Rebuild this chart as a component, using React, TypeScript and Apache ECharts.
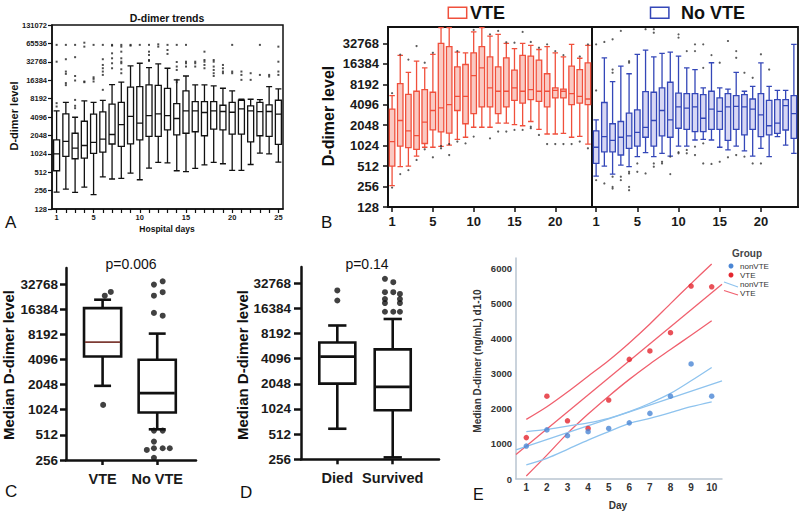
import React, { useEffect, useRef } from 'react';
import * as echarts from 'echarts';

const FONT = 'Arial, "Liberation Sans", Helvetica, sans-serif';
const lg = (v: number) => Math.log2(v);

// ---------- Panel A ----------
const daysA = ['1','2','3','4','5','6','7','8','9','10','11','12','13','14','15','16','17','18','19','20','21','22','23','24','25'];
const aLabelIdx = [0, 4, 9, 14, 19, 24];
const yTicksA = [128, 256, 512, 1024, 2048, 4096, 8192, 16384, 32768, 65536, 131072];
// [low whisker, Q1, median, Q3, high whisker]
const boxA = [
  [242, 541, 1024, 1735, 5150],
  [271, 930, 1630, 4600, 7100],
  [240, 850, 1270, 2220, 4060],
  [292, 870, 1400, 3490, 7540],
  [220, 1040, 1570, 4550, 7100],
  [428, 1090, 1780, 4970, 7650],
  [396, 1480, 2120, 6650, 13900],
  [405, 1350, 3070, 7100, 15200],
  [494, 1490, 4180, 12600, 28100],
  [385, 1735, 3260, 12900, 31000],
  [596, 1970, 4330, 13700, 26400],
  [740, 1970, 4600, 13500, 30200],
  [725, 2520, 4330, 12000, 25700],
  [541, 2090, 3870, 6800, 16600],
  [523, 2220, 5150, 11000, 19200],
  [592, 2350, 5150, 7330, 13700],
  [677, 2020, 4850, 7330, 13700],
  [740, 2590, 5150, 7330, 13200],
  [704, 2520, 5040, 6380, 12100],
  [549, 2150, 4900, 7100, 11000],
  [549, 2150, 5560, 7700, 8000],
  [684, 1610, 5150, 6250, 8000],
  [1050, 2020, 5000, 7100, 7900],
  [1024, 1970, 5040, 6470, 12900],
  [750, 1460, 4550, 7700, 11800],
];
const outA: [number, number][] = [
  [0,62000],[0,32900],[0,6900],[0,6080],
  [1,62000],[1,36100],[1,22700],[1,20800],[1,14700],[1,13600],
  [2,62000],[2,39000],[2,19200],[2,16200],[2,7800],[2,6250],[2,5710],
  [3,67300],[3,58000],[3,15600],[3,15200],
  [4,62000],[4,18300],[4,17200],[4,15600],
  [5,62000],[5,36100],[5,29100],[5,25700],[5,22700],[5,20000],[5,11400],
  [6,62000],[6,60300],[6,45100],[6,37400],[6,31000],[6,25700],
  [7,62000],[7,58000],[7,48000],[7,37400],[7,32900],[7,31000],[7,24700],[7,21300],
  [8,62000],[8,60300],
  [9,62000],
  [10,62000],[10,48000],[10,42400],[10,35100],[10,33900],
  [11,63300],[11,58000],
  [12,62000],[12,51100],[12,44100],
  [13,62000],[13,32500],[13,27400],[13,24100],[13,16600],[13,15200],
  [14,62000],[14,32900],[14,31000],[14,27400],
  [15,32900],[15,31000],[15,27400],
  [16,48000],[16,35100],[16,32900],[16,29100],[16,25700],
  [17,35100],[17,32900],[17,27400],[17,24100],[17,21300],[17,19200],
  [18,29100],[18,25700],[18,22700],[18,21300],
  [19,62000],[19,22700],[19,21300],
  [20,22700],[20,20000],[20,16600],
  [21,21300],[21,16600],
  [22,62000],[22,20000],
  [23,20000],[23,18800],
  [24,58000],[24,32900],[24,22700],[24,20000],
];

// ---------- Panel B ----------
const daysB = ['1','2','3','4','5','6','7','8','9','10','11','12','13','14','15','16','17','18','19','20','21','22','23','24','25'];
const bTickText: Record<number, string> = { 0: '1', 5: '5', 10: '10', 15: '15', 20: '20' };
const yTicksB = [128, 256, 512, 1024, 2048, 4096, 8192, 16384, 32768];
const boxBred = [
  [265, 512, 1176, 3540, 5560],
  [502, 1010, 2400, 8360, 21800],
  [512, 955, 1690, 5830, 12300],
  [718, 900, 1440, 6470, 17900],
  [970, 1100, 2270, 6840, 14300],
  [970, 1745, 3370, 6250, 22600],
  [1000, 1630, 3690, 32768, 56000],
  [1045, 1560, 4100, 29300, 56000],
  [1270, 3370, 5440, 14800, 24300],
  [1360, 2150, 5440, 16000, 23800],
  [1910, 3020, 11000, 23800, 48300],
  [1910, 3800, 14300, 29300, 56000],
  [1910, 3800, 7230, 20700, 42000],
  [2200, 3020, 6470, 14800, 44500],
  [2200, 3800, 6470, 20100, 32768],
  [2080, 4740, 7230, 13200, 27400],
  [2010, 4330, 6470, 21800, 32768],
  [2320, 4870, 6840, 21300, 30600],
  [1780, 4590, 6470, 18600, 26600],
  [1520, 3800, 6470, 11700, 29300],
  [1520, 5150, 6650, 7230, 23800],
  [1550, 5150, 6470, 6970, 20700],
  [1360, 4100, 5950, 15200, 31700],
  [1400, 4330, 5440, 13500, 19800],
  [1080, 4100, 4970, 16900, 30600],
];
const outBred: [number, number][] = [
  [0,247],[0,6060],[1,390],[1,22400],[2,446],[2,18900],[3,630],[3,29900],
  [4,905],[4,17000],[5,690],[5,23800],[6,935],[6,1010],[7,745],[7,1080],
  [8,1176],[8,25200],[9,1105],[10,1390],[10,51700],[12,1310],[12,44500],
  [13,1650],[13,50000],[14,1650],[14,34000],[15,1745],[15,33500],
  [16,1745],[16,48300],[17,1950],[17,1850],[17,34400],[18,1470],[18,28300],
  [19,1080],[19,31700],[20,1080],[20,25200],[21,1080],[21,22000],[22,1080],
  [23,1176],[23,21000],[24,935],[24,31700],
];
const boxBblue = [
  [364, 560, 970, 1690, 2450],
  [512, 830, 1390, 4420, 20100],
  [390, 830, 1220, 2150, 8960],
  [530, 745, 1360, 2320, 15200],
  [502, 935, 1430, 3080, 11700],
  [705, 1010, 1600, 3440, 22600],
  [810, 1360, 1900, 6380, 26000],
  [705, 1010, 2400, 6250, 20700],
  [790, 1430, 3370, 7230, 23300],
  [718, 1360, 2450, 8780, 24300],
  [1010, 1845, 3800, 6060, 21300],
  [1010, 1780, 3660, 5950, 14300],
  [1240, 1650, 3800, 5950, 13500],
  [1270, 1650, 2590, 5750, 7230],
  [1240, 1780, 3540, 6470, 17000],
  [970, 1780, 3260, 5150, 7230],
  [885, 1220, 3800, 5950, 6970],
  [1010, 1780, 3870, 5560, 12300],
  [860, 1470, 3800, 5750, 6470],
  [718, 1780, 3540, 4970, 7650],
  [935, 1390, 2900, 5950, 16900],
  [705, 1470, 2010, 4740, 7650],
  [1390, 1550, 2200, 4870, 6650],
  [1045, 1740, 3960, 4870, 6650],
  [790, 1310, 3020, 5560, 31700],
];
const outBblue: [number, number][] = [
  [0,318],[0,6650],[0,31700],[1,284],[1,34400],
  [2,357],[2,253],[2,239],[2,37600],[2,13500],[2,12100],
  [3,357],[3,318],[3,50000],
  [4,422],[4,399],[4,253],[4,226],[4,17000],[4,17900],
  [5,560],[5,422],[6,399],[6,52900],[6,59000],
  [7,560],[7,502],[7,52900],[7,47000],[8,593],[8,560],[9,705],[9,390],
  [10,820],[10,790],[10,44500],[10,39800],[11,885],[11,790],[11,25200],
  [12,990],[12,745],[12,31700],[12,25200],[13,1105],[13,560],[13,31700],[13,14300],
  [14,550],[14,22000],[15,593],[15,17000],[16,690],[16,35500],
  [17,745],[17,25200],[17,20100],[18,705],[18,12100],[19,560],[19,10200],
  [20,560],[20,22600],[21,13500],
];

// ---------- Panel C ----------
const cGroups = ['VTE', 'No VTE'];
const cPositions = [1, 2];
const yTicksCD = [256, 512, 1024, 2048, 4096, 8192, 16384, 32768];
const cStats = [
  [1980, 4450, 6600, 16900, 21300],
  [597, 950, 1620, 4060, 8360],
];
const cOutliers: [number, number][] = [
  [1.01,1170],[1.04,23800],[1.15,26400],
  [1.94,32300],[2.10,35400],[1.94,23800],[2.10,26200],[1.94,14800],[2.10,13700],
  [1.94,576],[2.10,576],[1.94,425],[1.81,338],[1.94,354],[2.10,354],[2.23,354],[1.94,272],
];

// ---------- Panel D ----------
const dGroups = ['Died', 'Survived'];
const dPositions = [1, 2];
const dStats = [
  [594, 2060, 4330, 6380, 10200],
  [270, 990, 1880, 5280, 12200],
];
const dOutliers: [number, number][] = [
  [1,20300],[1,26800],
  [1.86,36900],[2.01,33600],[1.86,25500],[2.01,25500],[2.13,24300],
  [1.86,21100],[2.13,21100],[1.86,18900],[2.13,18900],[1.86,14900],[2.01,14900],[2.13,14900],
];

// ---------- Panel E ----------
const eDays = [1, 2, 3, 4, 5, 6, 7, 8, 9, 10];
const eYTicks = [0, 1000, 2000, 3000, 4000, 5000, 6000];
const eVte = [1180, 2360, 1660, 1440, 2250, 3410, 3650, 4170, 5500, 5480];
const eNon = [940, 1400, 1235, 1350, 1440, 1600, 1870, 2360, 3280, 2360];
const eFitX = [0.5, 10.5];
const eVteFit = [700, 5550];
const eNonFit = [830, 2800];
const eVteUpper = [1700, 2060, 2480, 2930, 3380, 3880, 4420, 5000, 5570, 6130];
const eVteLower = [85, 680, 1300, 1850, 2360, 2840, 3280, 3690, 4100, 4510];
const eNonUpper = [1350, 1415, 1510, 1600, 1730, 1920, 2160, 2440, 2800, 3180];
const eNonLower = [400, 590, 845, 1110, 1350, 1585, 1730, 1890, 2060, 2200];

const RED = '#f0503c';
const BLUE = '#3447b8';
const E_RED_PT = '#e3262e';
const E_BLUE_PT = '#4a86d4';
const E_RED_LN = '#f0606e';
const E_BLUE_LN = '#8ec3ee';
const E_AXIS = '#b9c5d1';

const pow2 = (v: number) => String(Math.round(Math.pow(2, v)));

function boxRender(boxW: number, capW: number, medColors: string[], medWidths: number[]) {
  return (params: any, api: any) => {
    const x = api.value(0);
    const lo = api.coord([x, api.value(1)]);
    const q1 = api.coord([x, api.value(2)]);
    const md = api.coord([x, api.value(3)]);
    const q3 = api.coord([x, api.value(4)]);
    const hi = api.coord([x, api.value(5)]);
    const bw = api.size([boxW, 0])[0];
    const cw = api.size([capW, 0])[0];
    const cx = lo[0];
    const st = { stroke: '#111', lineWidth: 2.6, fill: 'none' };
    const i = params.dataIndex;
    return {
      type: 'group',
      children: [
        { type: 'line', shape: { x1: cx, y1: q1[1], x2: cx, y2: lo[1] }, style: st },
        { type: 'line', shape: { x1: cx, y1: q3[1], x2: cx, y2: hi[1] }, style: st },
        { type: 'line', shape: { x1: cx - cw / 2, y1: lo[1], x2: cx + cw / 2, y2: lo[1] }, style: st },
        { type: 'line', shape: { x1: cx - cw / 2, y1: hi[1], x2: cx + cw / 2, y2: hi[1] }, style: st },
        { type: 'rect', shape: { x: cx - bw / 2, y: q3[1], width: bw, height: q1[1] - q3[1] }, style: { stroke: '#111', lineWidth: 2.6, fill: '#fff' } },
        { type: 'line', shape: { x1: cx - bw / 2 + 1, y1: md[1], x2: cx + bw / 2 - 1, y2: md[1] }, style: { stroke: medColors[i], lineWidth: medWidths[i] } },
      ],
    };
  };
}

function txt(text: string, x: number, y: number, size: number, o: any = {}) {
  return {
    type: 'text', x, y, rotation: o.rot ? Math.PI / 2 : 0, silent: true, z: 100,
    style: {
      text, fontSize: size, fontWeight: o.bold ? 'bold' : 'normal', fontFamily: FONT,
      fill: o.color || '#111', align: o.align || 'center', verticalAlign: 'middle',
    },
  };
}

function buildOption(): any {
  const blk = (w: number) => ({ show: true, onZero: false, lineStyle: { color: '#111', width: w } });
  const lbl = (size: number, margin: number, extra: any = {}) => ({
    fontSize: size, fontWeight: 'bold', color: '#1a1a1a', fontFamily: FONT, margin, ...extra,
  });
  const noSplit = { show: false };

  const grids = [
    { left: 52, top: 25, width: 231, height: 184, show: true, borderColor: '#111', borderWidth: 1.5 },
    { left: 388, top: 27, width: 204, height: 180, show: true, borderColor: '#111', borderWidth: 1.8 },
    { left: 592, top: 27, width: 206, height: 180, show: true, borderColor: '#111', borderWidth: 1.8 },
    { left: 66, top: 268, width: 130, height: 192 },
    { left: 301, top: 267, width: 138, height: 192.3 },
    { left: 516, top: 258, width: 206, height: 221 },
  ];

  const bInterval = (i: number) => bTickText[i] !== undefined;
  const xAxes = [
    {
      gridIndex: 0, type: 'category', data: daysA, boundaryGap: true,
      axisLine: blk(1.5),
      axisTick: { show: true, interval: 0, alignWithLabel: true, length: 4, lineStyle: { color: '#111', width: 1.2 } },
      axisLabel: lbl(7.5, 4, { interval: (i: number) => aLabelIdx.includes(i) }),
      splitLine: noSplit,
    },
    {
      gridIndex: 1, type: 'category', data: daysB, boundaryGap: true,
      axisLine: blk(1.8),
      axisTick: { show: true, interval: bInterval, alignWithLabel: true, length: 5, lineStyle: { color: '#111', width: 1.5 } },
      axisLabel: lbl(13, 8, { interval: bInterval, formatter: (_v: string, i: number) => bTickText[i] || '' }),
      splitLine: noSplit,
    },
    {
      gridIndex: 2, type: 'category', data: daysB, boundaryGap: true,
      axisLine: blk(1.8),
      axisTick: { show: true, interval: bInterval, alignWithLabel: true, length: 5, lineStyle: { color: '#111', width: 1.5 } },
      axisLabel: lbl(13, 8, { interval: bInterval, formatter: (_v: string, i: number) => bTickText[i] || '' }),
      splitLine: noSplit,
    },
    {
      gridIndex: 3, type: 'value', min: 0.33, max: 2.71,
      axisLine: blk(2.5),
      axisTick: { show: true, customValues: cPositions, length: 5, lineStyle: { color: '#111', width: 2.5 } },
      axisLabel: lbl(14.5, 11, { customValues: cPositions, formatter: (v: number) => cGroups[Math.round(v) - 1] || '' }),
      splitLine: noSplit,
    },
    {
      gridIndex: 4, type: 'value', min: 0.345, max: 2.835,
      axisLine: blk(2.5),
      axisTick: { show: true, customValues: dPositions, length: 5, lineStyle: { color: '#111', width: 2.5 } },
      axisLabel: lbl(14.5, 11, { customValues: dPositions, formatter: (v: number) => dGroups[Math.round(v) - 1] || '' }),
      splitLine: noSplit,
    },
    {
      gridIndex: 5, type: 'value', min: 0.5, max: 10.5,
      axisLine: { show: true, onZero: false, lineStyle: { color: E_AXIS, width: 1.5 } },
      axisTick: { show: false },
      axisLabel: lbl(10, 3, { customValues: eDays, color: '#333', formatter: (v: number) => String(v) }),
      splitLine: noSplit,
    },
  ];

  const yAxes = [
    {
      gridIndex: 0, type: 'value', min: 7, max: 17, interval: 1,
      axisLine: blk(1.5),
      axisTick: { show: true, length: 4, lineStyle: { color: '#111', width: 1.2 } },
      axisLabel: lbl(7.5, 5, { customValues: yTicksA.map(lg), formatter: pow2 }),
      splitLine: noSplit,
    },
    {
      gridIndex: 1, type: 'value', min: 7, max: 15.8, interval: 1,
      axisLine: blk(1.8),
      axisTick: { show: true, length: 5, customValues: yTicksB.map(lg), lineStyle: { color: '#111', width: 1.5 } },
      axisLabel: lbl(13, 9, { customValues: yTicksB.map(lg), formatter: pow2 }),
      splitLine: noSplit,
    },
    {
      gridIndex: 2, type: 'value', min: 7, max: 15.8, interval: 1,
      axisLine: blk(1.8), axisTick: { show: false }, axisLabel: { show: false }, splitLine: noSplit,
    },
    {
      gridIndex: 3, type: 'value', min: 8, max: 15.64, interval: 1,
      axisLine: blk(2.5),
      axisTick: { show: true, length: 6, customValues: yTicksCD.map(lg), lineStyle: { color: '#111', width: 2.5 } },
      axisLabel: lbl(13.5, 8, { customValues: yTicksCD.map(lg), formatter: pow2 }),
      splitLine: noSplit,
    },
    {
      gridIndex: 4, type: 'value', min: 8, max: 15.64, interval: 1,
      axisLine: blk(2.5),
      axisTick: { show: true, length: 7, customValues: yTicksCD.map(lg), lineStyle: { color: '#111', width: 2.5 } },
      axisLabel: lbl(13.5, 10, { customValues: yTicksCD.map(lg), formatter: pow2 }),
      splitLine: noSplit,
    },
    {
      gridIndex: 5, type: 'value', min: 0, max: 6300, interval: 1000,
      axisLine: { show: true, onZero: false, lineStyle: { color: E_AXIS, width: 1.5 } },
      axisTick: { show: false },
      axisLabel: lbl(9.5, 4, { customValues: eYTicks, color: '#333', formatter: (v: number) => String(Math.round(v)) }),
      splitLine: noSplit,
    },
  ];

  const eLine = (xs: number[], ys: number[], color: string, smooth: boolean) => ({
    type: 'line', xAxisIndex: 5, yAxisIndex: 5, silent: true,
    data: xs.map((x, i) => [x, ys[i]]), smooth: smooth ? 0.3 : false, symbol: 'none',
    lineStyle: { color, width: 1.3 }, z: 2,
  });

  const series: any[] = [
    {
      type: 'boxplot', xAxisIndex: 0, yAxisIndex: 0, silent: true,
      data: boxA.map((r) => r.map(lg)), boxWidth: [6, 6],
      itemStyle: { color: '#fff', borderColor: '#111', borderWidth: 1.3 },
    },
    {
      type: 'scatter', xAxisIndex: 0, yAxisIndex: 0, silent: true,
      data: outA.map(([i, v]) => [i, lg(v)]), symbol: 'rect', symbolSize: 2, itemStyle: { color: '#222' },
    },
    {
      type: 'boxplot', xAxisIndex: 1, yAxisIndex: 1, silent: true,
      data: boxBred.map((r) => r.map(lg)), boxWidth: [5.5, 5.5],
      itemStyle: { color: 'rgba(242,100,80,0.35)', borderColor: RED, borderWidth: 1.3 },
    },
    {
      type: 'scatter', xAxisIndex: 1, yAxisIndex: 1, silent: true,
      data: outBred.map(([i, v]) => [i, lg(v)]), symbolSize: 2.2, itemStyle: { color: '#333' },
    },
    {
      type: 'boxplot', xAxisIndex: 2, yAxisIndex: 2, silent: true,
      data: boxBblue.map((r) => r.map(lg)), boxWidth: [5.5, 5.5],
      itemStyle: { color: 'rgba(110,110,215,0.28)', borderColor: BLUE, borderWidth: 1.3 },
    },
    {
      type: 'scatter', xAxisIndex: 2, yAxisIndex: 2, silent: true,
      data: outBblue.map(([i, v]) => [i, lg(v)]), symbolSize: 2.2, itemStyle: { color: '#333' },
    },
    {
      type: 'custom', xAxisIndex: 3, yAxisIndex: 3, silent: true, clip: false,
      renderItem: boxRender(0.68, 0.31, ['#7d3b34', '#111'], [1.8, 2.6]),
      data: cPositions.map((x, i) => [x, ...cStats[i].map(lg)]),
      encode: { x: 0, y: [1, 2, 3, 4, 5] },
    },
    {
      type: 'scatter', xAxisIndex: 3, yAxisIndex: 3, silent: true,
      data: cOutliers.map(([x, v]) => [x, lg(v)]), symbolSize: 6, itemStyle: { color: '#111' },
    },
    {
      type: 'custom', xAxisIndex: 4, yAxisIndex: 4, silent: true, clip: false,
      renderItem: boxRender(0.65, 0.33, ['#111', '#111'], [2.6, 2.6]),
      data: dPositions.map((x, i) => [x, ...dStats[i].map(lg)]),
      encode: { x: 0, y: [1, 2, 3, 4, 5] },
    },
    {
      type: 'scatter', xAxisIndex: 4, yAxisIndex: 4, silent: true,
      data: dOutliers.map(([x, v]) => [x, lg(v)]), symbolSize: 6, itemStyle: { color: '#111' },
    },
    eLine(eFitX, eVteFit, E_RED_LN, false),
    eLine(eDays, eVteUpper, E_RED_LN, true),
    eLine(eDays, eVteLower, E_RED_LN, true),
    eLine(eFitX, eNonFit, E_BLUE_LN, false),
    eLine(eDays, eNonUpper, E_BLUE_LN, true),
    eLine(eDays, eNonLower, E_BLUE_LN, true),
    {
      type: 'scatter', xAxisIndex: 5, yAxisIndex: 5, silent: true, z: 5,
      data: eDays.map((d, i) => [d, eVte[i]]), symbolSize: 5.5, itemStyle: { color: E_RED_PT },
    },
    {
      type: 'scatter', xAxisIndex: 5, yAxisIndex: 5, silent: true, z: 5,
      data: eDays.map((d, i) => [d, eNon[i]]), symbolSize: 5.5, itemStyle: { color: E_BLUE_PT },
    },
  ];

  const graphic: any[] = [
    txt('D-dimer trends', 167, 18, 10.5, { bold: true }),
    txt('D-dimer level', 14, 116, 11, { bold: true, rot: true }),
    txt('Hospital days', 167, 229, 8.5, { bold: true }),
    txt('A', 5, 222, 17, { align: 'left' }),
    txt('D-dimer level', 328, 116, 16, { bold: true, rot: true }),
    txt('B', 321, 222, 17, { align: 'left' }),
    { type: 'rect', silent: true, shape: { x: 448.3, y: 7.3, width: 18.4, height: 11 }, style: { fill: 'none', stroke: RED, lineWidth: 1.5 } },
    txt('VTE', 470, 13, 18, { bold: true, align: 'left' }),
    { type: 'rect', silent: true, shape: { x: 650.5, y: 7.3, width: 18.4, height: 11 }, style: { fill: 'none', stroke: BLUE, lineWidth: 1.5 } },
    txt('No VTE', 681, 13, 18, { bold: true, align: 'left' }),
    txt('Median D-dimer level', 8, 365, 15, { bold: true, rot: true }),
    txt('p=0.006', 131, 264, 14),
    txt('C', 5, 491, 17, { align: 'left' }),
    txt('Median D-dimer level', 242, 365, 15, { bold: true, rot: true }),
    txt('p=0.14', 367, 264, 14),
    txt('D', 240, 492, 17, { align: 'left' }),
    txt('Median D-dimer (ng/mL) d1-10', 477, 361, 10, { bold: true, rot: true, color: '#333' }),
    txt('Day', 618, 505, 10, { bold: true, color: '#333' }),
    txt('E', 473, 494, 16, { align: 'left' }),
    txt('Group', 747, 253, 10, { bold: true, color: '#444' }),
    { type: 'circle', silent: true, shape: { cx: 731, cy: 266, r: 2.5 }, style: { fill: E_BLUE_PT } },
    txt('nonVTE', 740, 266, 8, { align: 'left', color: '#333' }),
    { type: 'circle', silent: true, shape: { cx: 731, cy: 275, r: 2.5 }, style: { fill: E_RED_PT } },
    txt('VTE', 740, 275, 8, { align: 'left', color: '#333' }),
    { type: 'line', silent: true, shape: { x1: 724, y1: 282, x2: 738, y2: 287 }, style: { stroke: E_BLUE_LN, lineWidth: 1.3 } },
    txt('nonVTE', 740, 284.5, 8, { align: 'left', color: '#333' }),
    { type: 'line', silent: true, shape: { x1: 724, y1: 290.5, x2: 738, y2: 295 }, style: { stroke: E_RED_LN, lineWidth: 1.3 } },
    txt('VTE', 740, 293.5, 8, { align: 'left', color: '#333' }),
  ];

  return {
    animation: false,
    backgroundColor: '#ffffff',
    textStyle: { fontFamily: FONT },
    grid: grids,
    xAxis: xAxes,
    yAxis: yAxes,
    series,
    graphic,
  };
}

export default function App() {
  const ref = useRef<HTMLDivElement>(null);
  useEffect(() => {
    if (!ref.current) return;
    const chart = echarts.init(ref.current, null, { renderer: 'svg' });
    chart.setOption(buildOption());
    return () => chart.dispose();
  }, []);
  return (
    <div
      ref={ref}
      style={{ position: 'fixed', left: 0, top: 0, width: 800, height: 511, background: '#fff' }}
    />
  );
}
